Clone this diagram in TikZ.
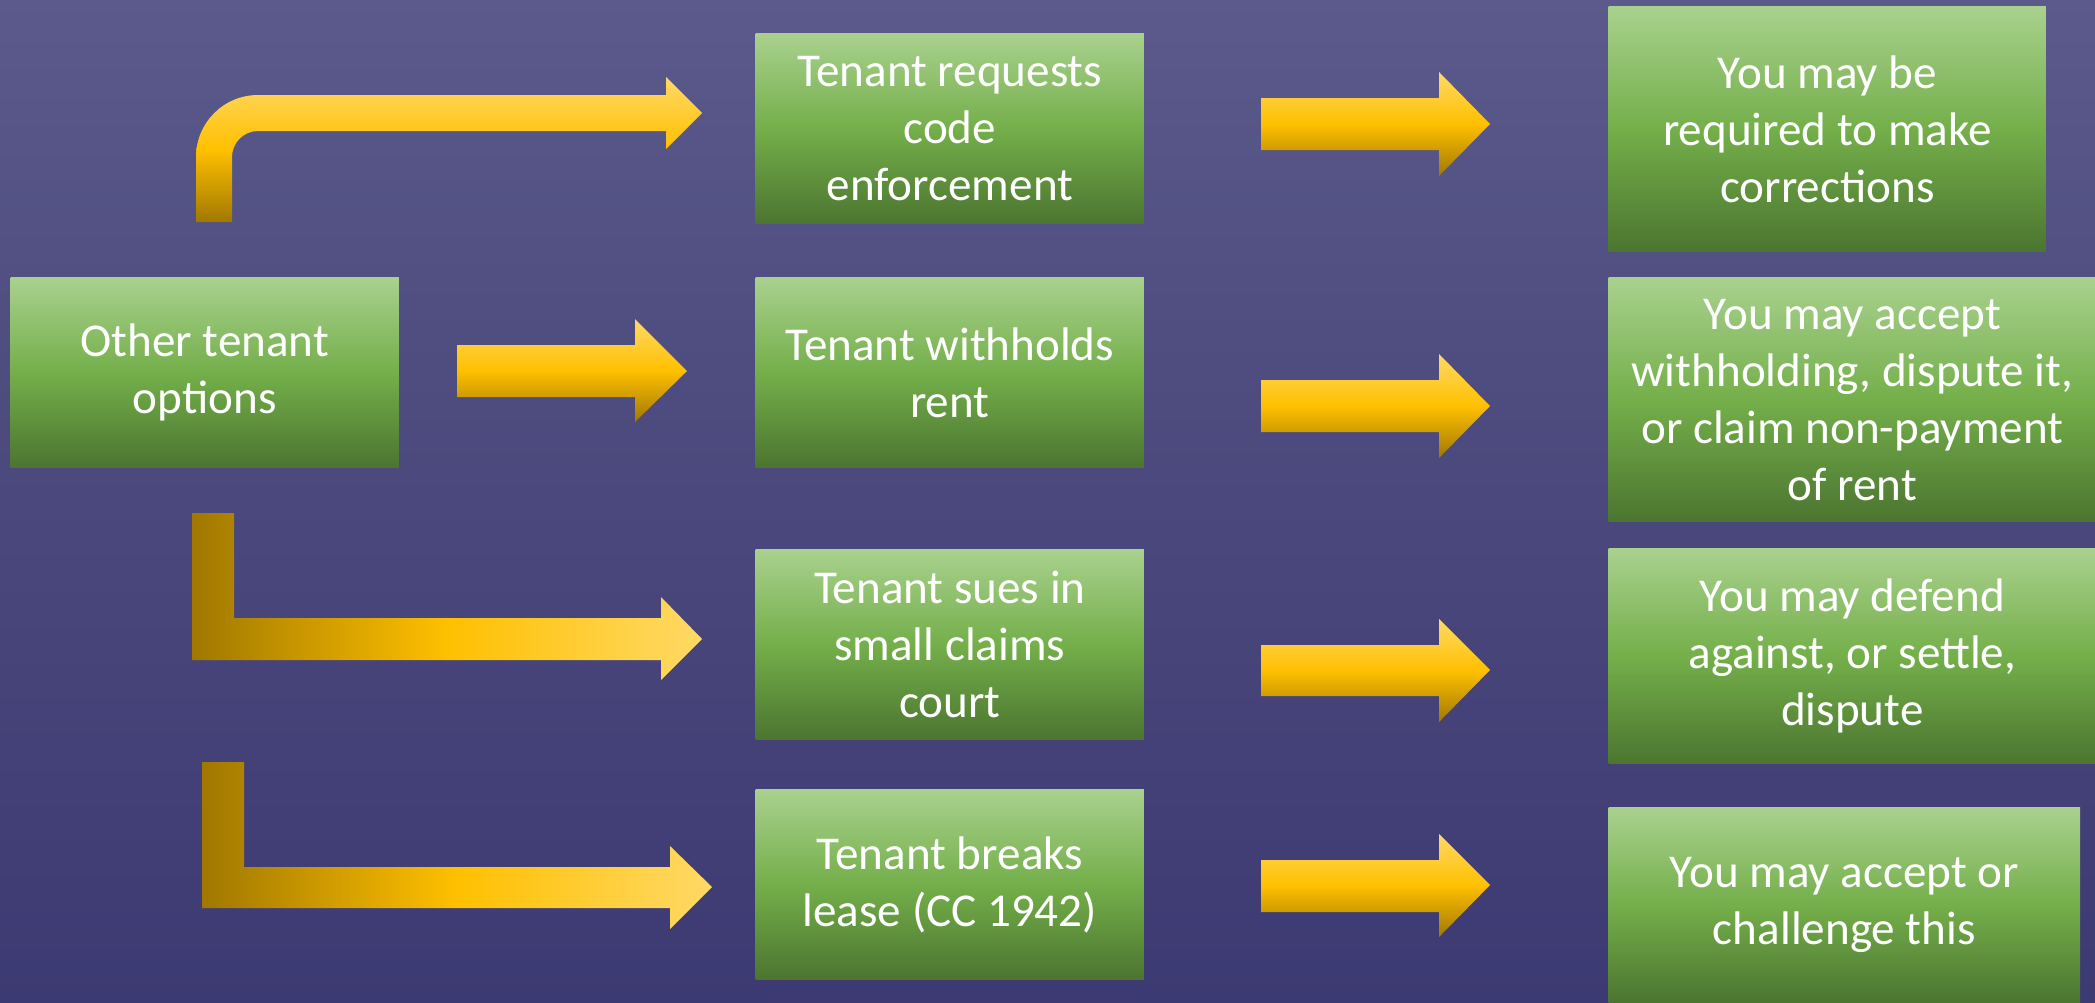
\documentclass[tikz,border=0pt]{standalone}
\usepackage{fontspec}
\setmainfont{Carlito}
\usetikzlibrary{positioning}
\definecolor{bgtop}{HTML}{5B5A8B}
\definecolor{bgmid}{HTML}{4A487C}
\definecolor{bgbot}{HTML}{3C3A72}
\definecolor{gtop}{HTML}{A9D18E}
\definecolor{gmid}{HTML}{74AF4A}
\definecolor{gbot}{HTML}{4B7530}
\definecolor{ylight}{HTML}{FFD966}
\definecolor{ymid}{HTML}{FFC000}
\definecolor{ydark}{HTML}{A07800}

\begin{document}
\begin{tikzpicture}[x=0.01cm,y=-0.01cm]
  \tikzstyle{box}=[rectangle,anchor=north west,inner sep=0pt,align=center,text=white,
    top color=gtop,bottom color=gbot,middle color=gmid,font=\fontsize{13.4}{16.2}\selectfont]
  \tikzstyle{varrow}=[top color=ylight,bottom color=ydark,middle color=ymid]
  \tikzstyle{harrow}=[left color=ydark,right color=ylight,middle color=ymid]
  \useasboundingbox (0,0) rectangle (2095,1002);
  \path[top color=bgtop,bottom color=bgbot,middle color=bgmid] (0,0) rectangle (2095,1002);
  \node[box,minimum width=3.88cm,minimum height=1.9cm] (opt) at (10,277) {Other tenant\\options};
  \node[box,minimum width=3.88cm,minimum height=1.9cm] (req) at (755,33) {Tenant requests\\code\\enforcement};
  \node[box,minimum width=3.88cm,minimum height=1.9cm] (wh) at (755,277) {Tenant withholds\\rent};
  \node[box,minimum width=3.88cm,minimum height=1.9cm] (sue) at (755,549) {Tenant sues in\\small claims\\court};
  \node[box,minimum width=3.88cm,minimum height=1.9cm] (brk) at (755,789) {Tenant breaks\\lease (CC 1942)};
  \node[box,minimum width=4.37cm,minimum height=2.45cm] (fix) at (1608,6) {You may be\\required to make\\corrections};
  \node[box,minimum width=4.87cm,minimum height=2.44cm] (acc) at (1608,277) {You may accept\\withholding, dispute it,\\or claim non-payment\\of rent};
  \node[box,minimum width=4.87cm,minimum height=2.15cm] (dfd) at (1608,548) {You may defend\\against, or settle,\\dispute};
  \node[box,minimum width=4.71cm,minimum height=1.95cm] (chl) at (1608,807) {You may accept or\\challenge this};
  % bent arrows out of the options box
  \path[varrow] (196,222) -- (196,157) arc[start angle=180,end angle=270,radius=62] -- (666,95)
    -- (666,77) -- (702,113) -- (666,149) -- (666,131) -- (258,131)
    arc[start angle=270,end angle=180,radius=26] -- (232,222) -- cycle;
  \path[varrow] (457,345) -- (635,345) -- (635,319) -- (687,371) -- (635,422) -- (635,397) -- (457,397) -- cycle;
  \path[harrow] (192,513) -- (234,513) -- (234,618) -- (661,618) -- (661,597) -- (702,639)
    -- (661,680) -- (661,660) -- (192,660) -- cycle;
  \path[harrow] (202,762) -- (244,762) -- (244,867) -- (670,867) -- (670,846) -- (712,887)
    -- (670,929) -- (670,908) -- (202,908) -- cycle;
  % arrows to the landlord's options
  \path[varrow] (1261,98) -- (1439,98) -- (1439,72) -- (1490,124) -- (1439,176) -- (1439,150) -- (1261,150) -- cycle;
  \path[varrow] (1261,380) -- (1439,380) -- (1439,354) -- (1490,406) -- (1439,458) -- (1439,432) -- (1261,432) -- cycle;
  \path[varrow] (1261,645) -- (1439,645) -- (1439,619) -- (1490,670) -- (1439,722) -- (1439,696) -- (1261,696) -- cycle;
  \path[varrow] (1261,860) -- (1439,860) -- (1439,834) -- (1490,885) -- (1439,937) -- (1439,912) -- (1261,912) -- cycle;
\end{tikzpicture}
\end{document}
